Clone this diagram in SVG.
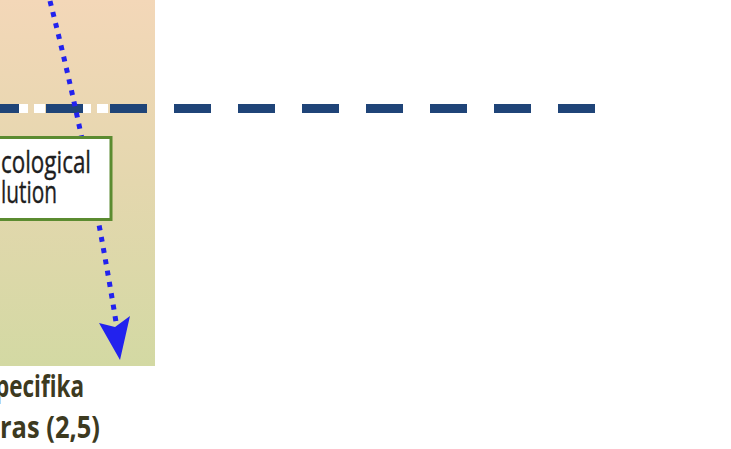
<svg xmlns="http://www.w3.org/2000/svg" width="731" height="449" viewBox="0 0 731 449">
<defs>
<linearGradient id="panelGrad" x1="0" y1="0" x2="0" y2="1">
<stop offset="0" stop-color="#f3d7b8"/>
<stop offset="0.5" stop-color="#e4d7ae"/>
<stop offset="1" stop-color="#d3d9a3"/>
</linearGradient>
<style>
.boxtxt{font-family:"Open Sans","Liberation Sans",sans-serif;font-size:31px;fill:#1e1e1e;stroke:#1e1e1e;stroke-width:0.4}
.label{font-family:"Open Sans","Liberation Sans",sans-serif;font-size:30px;font-weight:bold;fill:#3d3a1f}
.dash{stroke:#1f4478;stroke-width:9;stroke-dasharray:37 27;fill:none}
.dots{stroke:#2222ee;stroke-width:5;stroke-dasharray:5 6.5;fill:none}
</style>
</defs>
<rect x="0" y="0" width="731" height="449" fill="#ffffff"/>
<g id="panel">
<rect x="0" y="0" width="155" height="366" fill="url(#panelGrad)"/>
</g>
<g id="connectors">
<g id="divider">
<g fill="#ffffff">
<rect x="19" y="104" width="9" height="9"/>
<rect x="34" y="104" width="11" height="9"/>
<rect x="83" y="104" width="8" height="9"/>
<rect x="97" y="104" width="11" height="9"/>
</g>
<line class="dash" x1="-18" y1="108.5" x2="597" y2="108.5"/>
</g>
<g id="arrow">
<path class="dots" d="M50,1 Q88,150 116,322"/>
<polygon points="99,323 115,327 130,316 120,360" fill="#2222ee"/>
</g>
</g>
<g id="node-ecological">
<rect x="-10" y="137.5" width="121" height="82" fill="#ffffff" stroke="#5b8b30" stroke-width="3"/>
<text class="boxtxt" x="1" y="173" textLength="90" lengthAdjust="spacingAndGlyphs">cological</text>
<text class="boxtxt" x="1" y="203" textLength="56" lengthAdjust="spacingAndGlyphs">lution</text>
</g>
<g id="label-bottom">
<text class="label" x="-5" y="397" textLength="89" lengthAdjust="spacingAndGlyphs">pecifika</text>
<text class="label" x="0" y="438" textLength="100" lengthAdjust="spacingAndGlyphs">ras (2,5)</text>
</g>
</svg>
